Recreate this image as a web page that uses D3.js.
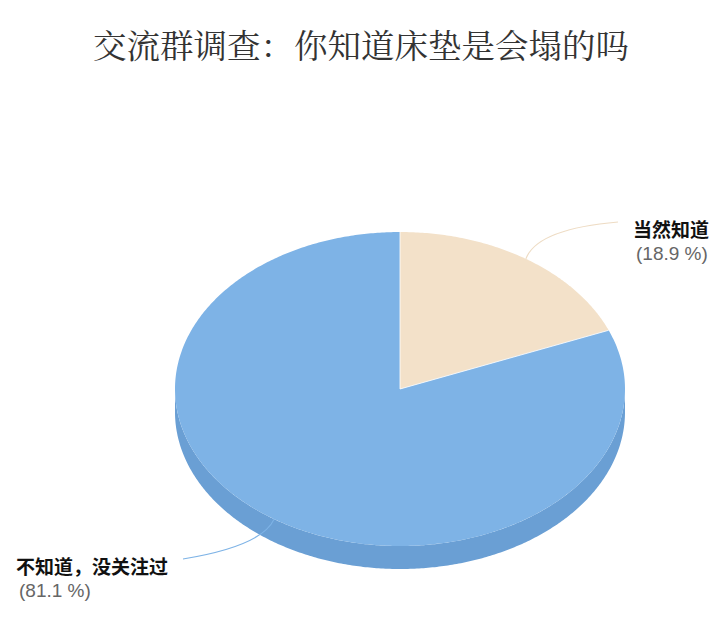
<!DOCTYPE html>
<html>
<head>
<meta charset="utf-8">
<script src="https://cdn.jsdelivr.net/npm/d3@7"></script>
<style>
  body { margin: 0; background: #fff; }
  svg { display: block; }
</style>
</head>
<body>
<svg id="chart"></svg>
<script>
// survey answers, in the order they go round the pie (clockwise from 12 o'clock)
let categories = ["当然知道", "不知道，没关注过"]
let values = [18.9, 81.1]
let percentLabels = ["(18.9 %)", "(81.1 %)"]
let titleText = "交流群调查：你知道床垫是会塌的吗"

let width = 720
let height = 627

let cx = 400
let cy = 389
let rx = 225
let ry = 157
let depth = 23

let topColors = ["#F3E1C9", "#7EB3E6"]
let sideColors = ["#E2CCAE", "#6A9FD4"]
let lineColors = ["#EEDCC4", "#7EB3E6"]

let svg = d3.select("#chart")
  .attr("width", width)
  .attr("height", height)

svg.append("text")
   .attr("x", 361)
   .attr("y", 43)
   .attr("text-anchor", "middle")
   .attr("dominant-baseline", "central")
   .style("font-family", "'Noto Serif CJK SC', 'Noto Sans CJK SC', sans-serif")
   .style("font-size", "33.5px")
   .style("fill", "#333")
   .text(titleText)

let pie = d3.pie().sort(null).startAngle(0).endAngle(2 * Math.PI)
let slices = pie(values)

// point on the top ellipse, angle measured clockwise from 12 o'clock
let pt = (a, dy = 0) => [cx + rx * Math.sin(a), cy - ry * Math.cos(a) + dy]

let arcPoints = (a0, a1, dy = 0) => {
  let n = Math.max(2, Math.ceil((a1 - a0) / 0.01))
  return d3.range(n + 1).map(i => pt(a0 + (a1 - a0) * i / n, dy))
}

let line = d3.line()

// side walls: only the part of each slice facing the viewer (between 3 and 9 o'clock)
let sides = svg.append("g")
slices.forEach((s, i) => {
  let a0 = Math.max(s.startAngle, Math.PI / 2)
  let a1 = Math.min(s.endAngle, 3 * Math.PI / 2)
  if (a1 <= a0) return
  let topEdge = arcPoints(a0, a1)
  let bottomEdge = arcPoints(a0, a1, depth).reverse()
  sides.append("path")
       .attr("d", line(topEdge.concat(bottomEdge)) + "Z")
       .attr("fill", sideColors[i])
})

// top faces
let tops = svg.append("g")
slices.forEach((s, i) => {
  let pts = [[cx, cy]].concat(arcPoints(s.startAngle, s.endAngle))
  tops.append("path")
      .attr("d", line(pts) + "Z")
      .attr("fill", topColors[i])
})

// thin white seams between the slices
slices.forEach(s => {
  tops.append("path")
      .attr("d", line([[cx, cy], pt(s.startAngle)]))
      .attr("stroke", "#fff")
      .attr("stroke-width", 0.8)
})

// data labels with curved connectors
let labelPos = [
  { x: 633, y: 228, end: [618, 222], ctrl: [537, 229] },
  { x: 16, y: 565, end: [183, 559], ctrl: [262, 546] }
]

let labels = svg.append("g")
slices.forEach((s, i) => {
  let p = labelPos[i]
  let start = pt((s.startAngle + s.endAngle) / 2)
  labels.append("path")
        .attr("d", "M" + start + "Q" + p.ctrl + " " + p.end)
        .attr("fill", "none")
        .attr("stroke", lineColors[i])
        .attr("stroke-width", 1.2)
  labels.append("text")
        .attr("x", p.x)
        .attr("y", p.y)
        .attr("dominant-baseline", "central")
        .style("font-family", "'Noto Sans CJK SC', sans-serif")
        .style("font-weight", "bold")
        .style("font-size", "19px")
        .style("fill", "#111")
        .text(categories[i])
  labels.append("text")
        .attr("x", p.x + 3)
        .attr("y", p.y + 25)
        .attr("dominant-baseline", "central")
        .style("font-family", "'Liberation Sans', Arial, sans-serif")
        .style("font-size", "19px")
        .style("fill", "#666")
        .text(percentLabels[i])
})
</script>
</body>
</html>
